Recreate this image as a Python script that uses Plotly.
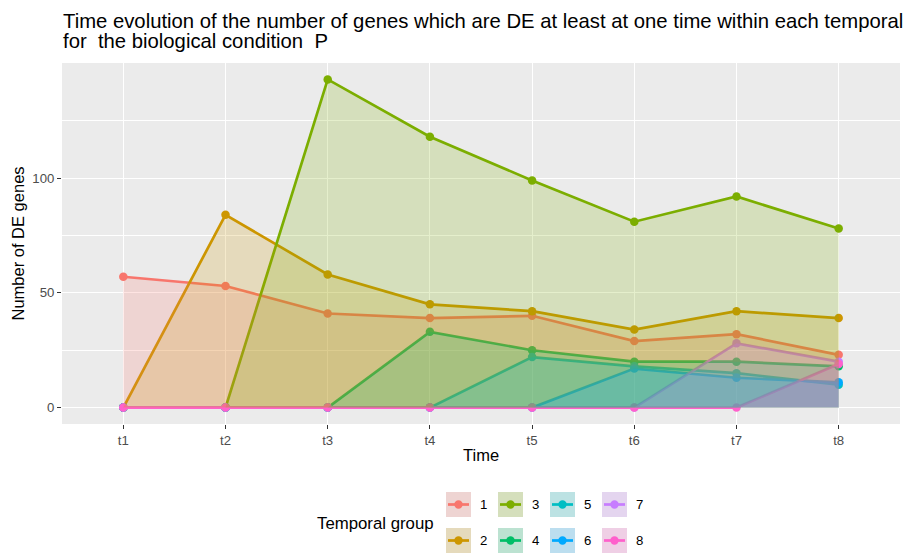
import plotly.graph_objects as go

times = ["t1", "t2", "t3", "t4", "t5", "t6", "t7", "t8"]
groups = ["1", "2", "3", "4", "5", "6", "7", "8"]
g1 = [57, 53, 41, 39, 40, 29, 32, 23]
g2 = [0, 84, 58, 45, 42, 34, 42, 39]
g3 = [0, 0, 143, 118, 99, 81, 92, 78]
g4 = [0, 0, 0, 33, 25, 20, 20, 18]
g5 = [0, 0, 0, 0, 22, 18, 15, 10]
g6 = [0, 0, 0, 0, 0, 17, 13, 11]
g7 = [0, 0, 0, 0, 0, 0, 28, 20]
g8 = [0, 0, 0, 0, 0, 0, 0, 19]
series = [g1, g2, g3, g4, g5, g6, g7, g8]
colors = ["#F8766D", "#CD9600", "#7CAE00", "#00BE67",
          "#00BFC4", "#00A9FF", "#C77CFF", "#FF61CC"]
y_ticks = [0, 50, 100]
y_minor = [25, 75, 125]
title_lines = ["Time evolution of the number of genes which are DE at least at one time within each temporal",
               "for  the biological condition  P"]

FONT = "Liberation Sans, Arial, sans-serif"
W, H = 912, 558
L, R, T, B = 62, 900, 63, 424


def rgba(hexc, a):
    h = hexc.lstrip("#")
    r, g, b = int(h[0:2], 16), int(h[2:4], 16), int(h[4:6], 16)
    return f"rgba({r},{g},{b},{a})"


def px_x(px):
    return (px - L) / (R - L)


def px_y(py):
    return (B - py) / (B - T)


fig = go.Figure()

# lines and points
for name, vals, c in zip(groups, series, colors):
    fig.add_trace(go.Scatter(x=times, y=vals, mode="lines+markers", name=name,
                             line=dict(color=c, width=2.7),
                             marker=dict(color=c, size=8.5),
                             showlegend=False))
# translucent areas drawn on top
for name, vals, c in zip(groups, series, colors):
    fig.add_trace(go.Scatter(x=times, y=vals, mode="none", fill="tozeroy",
                             fillcolor=rgba(c, 0.2), showlegend=False,
                             hoverinfo="skip"))

# custom legend (column-major, 2 rows x 4 columns)
shapes = []
annotations = []
key_w, key_h = 25, 25
col_x = [446, 498, 550, 602]
row_y = [492, 528]
for i, (name, c) in enumerate(zip(groups, colors)):
    col, row = i // 2, i % 2
    x0, y0 = col_x[col], row_y[row]
    x1, y1 = x0 + key_w, y0 + key_h
    shapes.append(dict(type="rect", xref="paper", yref="paper",
                       x0=px_x(x0), x1=px_x(x1), y0=px_y(y1), y1=px_y(y0),
                       fillcolor="#EBEBEB", line=dict(width=0), layer="above"))
    cy = (y0 + y1) / 2
    shapes.append(dict(type="line", xref="paper", yref="paper",
                       x0=px_x(x0 + 2), x1=px_x(x1 - 2), y0=px_y(cy), y1=px_y(cy),
                       line=dict(color=c, width=2.7), layer="above"))
    cx = (x0 + x1) / 2
    shapes.append(dict(type="circle", xref="paper", yref="paper",
                       x0=px_x(cx - 4.2), x1=px_x(cx + 4.2),
                       y0=px_y(cy + 4.2), y1=px_y(cy - 4.2),
                       fillcolor=c, line=dict(width=0), layer="above"))
    shapes.append(dict(type="rect", xref="paper", yref="paper",
                       x0=px_x(x0), x1=px_x(x1), y0=px_y(y1), y1=px_y(y0),
                       fillcolor=rgba(c, 0.2), line=dict(width=0), layer="above"))
    annotations.append(dict(text=name, xref="paper", yref="paper",
                            x=px_x(x1 + 7), y=px_y(cy), xanchor="left",
                            yanchor="middle", showarrow=False,
                            font=dict(family=FONT, size=13.2, color="black")))

annotations.append(dict(text="Temporal group", xref="paper", yref="paper",
                        x=px_x(315), y=px_y(523), xanchor="left", yanchor="middle",
                        showarrow=False, font=dict(family=FONT, size=16.8, color="black")))

# title (two lines, left aligned with panel)
TFS = 20.3
for line, base in zip(title_lines, [27.7, 48.3]):
    annotations.append(dict(text=line, xref="paper", yref="paper",
                            x=px_x(61), y=px_y(base - 0.35 * TFS),
                            xanchor="left", yanchor="middle", showarrow=False,
                            font=dict(family=FONT, size=TFS, color="black")))

# axis titles
annotations.append(dict(text="Time", xref="paper", yref="paper",
                        x=0.5, y=px_y(455), xanchor="center", yanchor="middle",
                        showarrow=False, font=dict(family=FONT, size=16.5, color="black")))
annotations.append(dict(text="Number of DE genes", xref="paper", yref="paper",
                        x=px_x(17), y=0.5, xanchor="center", yanchor="middle",
                        textangle=-90, showarrow=False,
                        font=dict(family=FONT, size=16.5, color="black")))

fig.update_layout(
    width=W, height=H,
    margin=dict(l=L, r=W - R, t=T, b=H - B, autoexpand=False),
    paper_bgcolor="white", plot_bgcolor="#EBEBEB",
    font=dict(family=FONT, color="black"),
    shapes=shapes, annotations=annotations,
    showlegend=False,
)
fig.update_xaxes(type="category", categoryorder="array", categoryarray=times,
                 range=[-0.6, 7.6], showgrid=True, gridcolor="white", gridwidth=1.4,
                 zeroline=False, ticks="outside", ticklen=4, tickcolor="#333333",
                 tickwidth=1.1, tickfont=dict(family=FONT, size=13.2, color="#4D4D4D"),
                 showline=False)
fig.update_yaxes(range=[-7.15, 150.15], tickmode="array", tickvals=y_ticks,
                 showgrid=True, gridcolor="white", gridwidth=1.4, zeroline=False,
                 ticks="outside", ticklen=4, tickcolor="#333333", tickwidth=1.1,
                 tickfont=dict(family=FONT, size=13.2, color="#4D4D4D"),
                 minor=dict(tickvals=y_minor, showgrid=True, gridcolor="white",
                            gridwidth=0.7, ticks=""),
                 showline=False)

fig.write_html("out.html", config={"displayModeBar": False},
               post_script="document.body.style.margin='0';document.body.style.padding='0';")
